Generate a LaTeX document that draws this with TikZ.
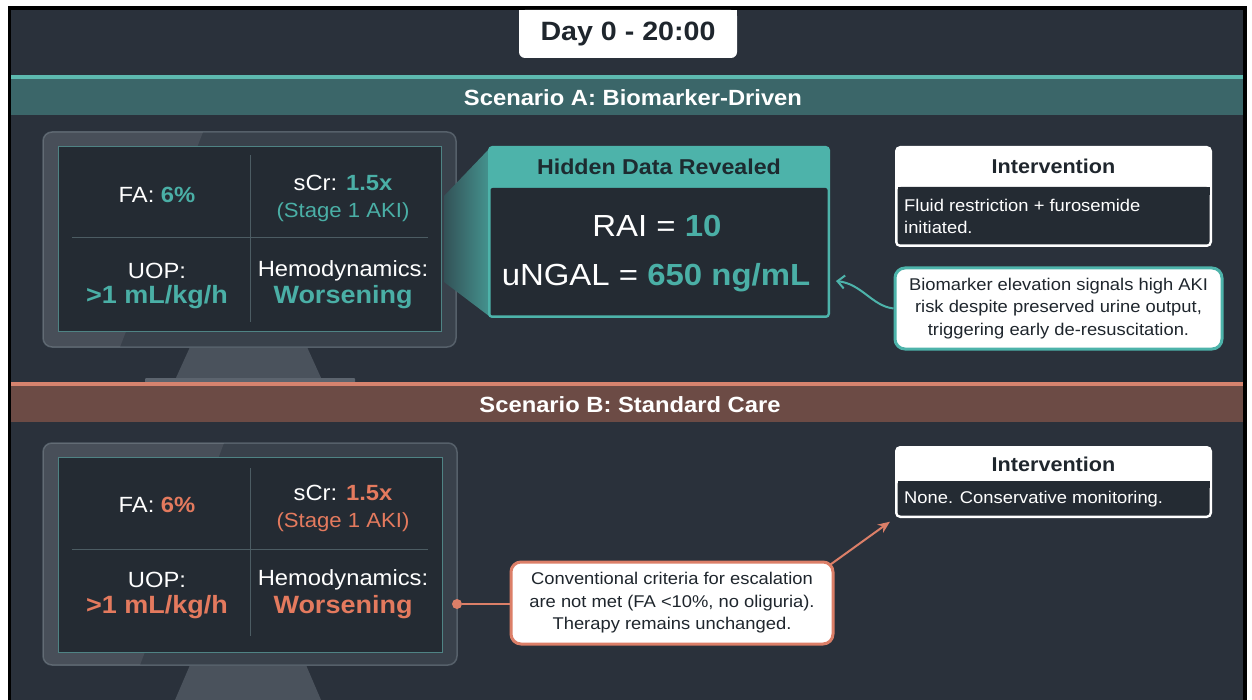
\documentclass[tikz,border=0pt]{standalone}
\usepackage{fontspec}
\setmainfont[FakeStretch=1.08]{Liberation Sans}
\usetikzlibrary{arrows.meta,calc}

\definecolor{pagebg}{HTML}{2A313B}
\definecolor{screenbg}{HTML}{242B33}
\definecolor{bezelfill}{HTML}{39414B}
\definecolor{bezeledge}{HTML}{56606A}
\definecolor{standfill}{HTML}{4A525C}
\definecolor{basefill}{HTML}{5C646E}
\definecolor{gridline}{HTML}{4C5C63}
\definecolor{screenedge}{HTML}{4F8384}
\definecolor{tealacc}{HTML}{4DB3AA}
\definecolor{tealtxt}{HTML}{4AAFA6}
\definecolor{tealband}{HTML}{3B6669}
\definecolor{tealline}{HTML}{5DB9AF}
\definecolor{orangeacc}{HTML}{DC7F68}
\definecolor{orangetxt}{HTML}{E47A5E}
\definecolor{orangeband}{HTML}{6C4B45}
\definecolor{orangeline}{HTML}{D6836E}
\definecolor{inktxt}{HTML}{1F262D}
\definecolor{headink}{HTML}{1D2B30}

\tikzset{
  bezel/.style={draw=bezeledge, line width=1.5pt, fill=bezelfill, rounded corners=9pt, inner sep=0pt},
  screen/.style={draw=screenedge, line width=1pt, fill=screenbg, inner sep=0pt},
  celltxt/.style={text=white, font=\fontsize{22}{26}\selectfont, inner sep=0pt},
  subtxt/.style={font=\fontsize{20.5}{24}\selectfont, inner sep=0pt},
  bigval/.style={font=\bfseries\fontsize{25}{29}\selectfont, inner sep=0pt},
  bandtxt/.style={text=white, font=\bfseries\fontsize{22}{26}\selectfont, inner sep=0pt},
  headtxt/.style={text=inktxt, font=\bfseries\fontsize{20}{24}\selectfont, inner sep=0pt},
  bodytxt/.style={text=white, font=\fontsize{17}{22}\selectfont, inner sep=0pt, align=left},
  callout/.style={fill=white, line width=3pt, rounded corners=10pt, inner sep=0pt,
                  text=inktxt, align=center, font=\fontsize{17}{22.5}\selectfont},
  gridrule/.style={draw=gridline, line width=1pt},
}

\begin{document}
\begin{tikzpicture}[x=1pt, y={(0pt,-1pt)}]
\useasboundingbox (0,0) rectangle (1252,700);

% page frame and backdrop
\fill[white] (0,0) rectangle (1252,700);
\fill[black] (8,6) rectangle (1247,700);
\fill[pagebg] (11,10) rectangle (1243,700);

% title tab
\node[fill=white, rounded corners=6pt, minimum width=218pt, minimum height=48pt, inner sep=0pt] (titlebox) at (628,34) {};
\fill[white] (519,10) rectangle (737,30);
\node[text=inktxt, font=\bfseries\fontsize{26.5}{30}\selectfont, inner sep=0pt] (title) at (628,34) {Day 0 - 20:00};

% ---------------- Scenario A ----------------
\fill[tealline] (11,75) rectangle (1243,79);
\node[fill=tealband, minimum width=1232pt, minimum height=36pt, inner sep=0pt] (bandA) at (627,97) {};
\node[bandtxt] (bandAtxt) at (633,98) {Scenario A: Biomarker-Driven};

% monitor A
\fill[standfill] (190,347) -- (307,347) -- (322,380) -- (175,380) -- cycle;
\fill[basefill, rounded corners=1pt] (145,378) rectangle (355,383);
\node[bezel, minimum width=413pt, minimum height=215pt] (bezA) at (249.5,239.5) {};
\begin{scope}
  \clip[rounded corners=9pt] (43,132) rectangle (456,347);
  \fill[white, opacity=0.08] (43,132) -- (203,132) -- (120,347) -- (43,347) -- cycle;
\end{scope}
\node[screen, minimum width=383pt, minimum height=185pt] (scrA) at (249.5,239.5) {};
\draw[gridrule] (250,155) -- (250,322);
\draw[gridrule] (72,238) -- (428,238);
\node[celltxt] (faA) at (157,195) {FA: \textbf{\textcolor{tealtxt}{6\%}}};
\node[celltxt] (scrA1) at (343,183) {sCr: \textbf{\textcolor{tealtxt}{1.5x}}};
\node[subtxt, text=tealtxt] (stgA) at (343,212) {(Stage 1 AKI)};
\node[celltxt] (uopA) at (157,271) {UOP:};
\node[bigval, text=tealtxt] (uopAv) at (157,297) {>1 mL/kg/h};
\node[celltxt] (hemA) at (343,271) {Hemodynamics:};
\node[bigval, text=tealtxt] (hemAv) at (343,297) {Worsening};

% light beam from the monitor to the revealed panel
\shade[left color=tealacc!25!pagebg, right color=tealacc!75!pagebg]
  (444,196) -- (489,149) -- (489,316) -- (444,282) -- cycle;

% hidden data panel
\node[fill=tealacc, rounded corners=4pt, minimum width=342pt, minimum height=172pt, inner sep=0pt] (hidden) at (659,232) {};
\fill[screenbg, rounded corners=2pt] (490.5,188) rectangle (827.5,315.5);
\node[text=headink, font=\bfseries\fontsize{21.5}{25}\selectfont, inner sep=0pt] (hiddenhd) at (659,167) {Hidden Data Revealed};
\node[text=white, font=\fontsize{30.5}{36}\selectfont, inner sep=0pt] (rai) at (657,226) {RAI = \textbf{\textcolor{tealtxt}{10}}};
\node[text=white, font=\fontsize{30.5}{36}\selectfont, inner sep=0pt] (ngal) at (656,278) {uNGAL = \textbf{\textcolor{tealtxt}{650 ng/mL}}};

% intervention A
\node[fill=white, rounded corners=5pt, minimum width=317pt, minimum height=101pt, inner sep=0pt] (intA) at (1053.5,196.5) {};
\fill[screenbg, rounded corners=3pt] (897.5,187) rectangle (1209.5,244.5);
\fill[screenbg] (897.5,187) rectangle (1209.5,195);
\node[headtxt] (intAhd) at (1053.5,166) {Intervention};
\node[bodytxt, anchor=west] (intAtxt) at (904,216) {Fluid restriction + furosemide\\initiated.};

% callout A
\node[callout, draw=tealacc, minimum width=327pt, minimum height=81pt] (callA) at (1058.5,308.5)
  {Biomarker elevation signals high AKI\\risk despite preserved urine output,\\triggering early de-resuscitation.};
\coordinate (tipA) at (836,281);
\draw[tealacc, line width=2pt, -{Straight Barb[length=7pt, width=13pt]}]
  (callA.west) .. controls (872,306) and (862,284) .. (tipA);

% ---------------- Scenario B ----------------
\fill[orangeline] (11,382) rectangle (1243,386);
\node[fill=orangeband, minimum width=1232pt, minimum height=36pt, inner sep=0pt] (bandB) at (627,404) {};
\node[bandtxt] (bandBtxt) at (630,405) {Scenario B: Standard Care};

% monitor B
\fill[standfill] (190,665) -- (306,665) -- (321,700) -- (175,700) -- cycle;
\node[bezel, minimum width=414pt, minimum height=222pt] (bezB) at (250,554) {};
\begin{scope}
  \clip[rounded corners=9pt] (43,443) rectangle (457,665);
  \fill[white, opacity=0.08] (43,443) -- (224,443) -- (140,665) -- (43,665) -- cycle;
\end{scope}
\node[screen, minimum width=384pt, minimum height=195pt] (scrB) at (250,554.5) {};
\draw[gridrule] (250,468) -- (250,636);
\draw[gridrule] (72,549) -- (428,549);
\node[celltxt] (faB) at (157,505) {FA: \textbf{\textcolor{orangetxt}{6\%}}};
\node[celltxt] (scrB1) at (343,493) {sCr: \textbf{\textcolor{orangetxt}{1.5x}}};
\node[subtxt, text=orangetxt] (stgB) at (343,522) {(Stage 1 AKI)};
\node[celltxt] (uopB) at (157,580) {UOP:};
\node[bigval, text=orangetxt] (uopBv) at (157,607) {>1 mL/kg/h};
\node[celltxt] (hemB) at (343,580) {Hemodynamics:};
\node[bigval, text=orangetxt] (hemBv) at (343,607) {Worsening};

% callout B
\node[callout, draw=orangeacc, minimum width=322pt, minimum height=82pt] (callB) at (672,603)
  {Conventional criteria for escalation\\are not met (FA <10\%, no oliguria).\\Therapy remains unchanged.};
\node[circle, fill=orangeacc, minimum size=10pt, inner sep=0pt] (dotB) at (457,604) {};
\draw[orangeacc, line width=2pt] (dotB) -- (callB.west |- dotB);

% intervention B
\node[fill=white, rounded corners=5pt, minimum width=317pt, minimum height=72pt, inner sep=0pt] (intB) at (1053.5,482) {};
\fill[screenbg, rounded corners=3pt] (897.5,481) rectangle (1209.5,515.5);
\fill[screenbg] (897.5,481) rectangle (1209.5,488);
\node[headtxt] (intBhd) at (1053.5,464) {Intervention};
\node[bodytxt, anchor=west] (intBtxt) at (904,499) {None. Conservative monitoring.};

\draw[orangeacc, line width=2pt, -{Stealth[length=12pt, width=10pt]}, shorten >=6pt]
  (callB.north east) ++(-4,4) -- (intB.south west);
\end{tikzpicture}
\end{document}
